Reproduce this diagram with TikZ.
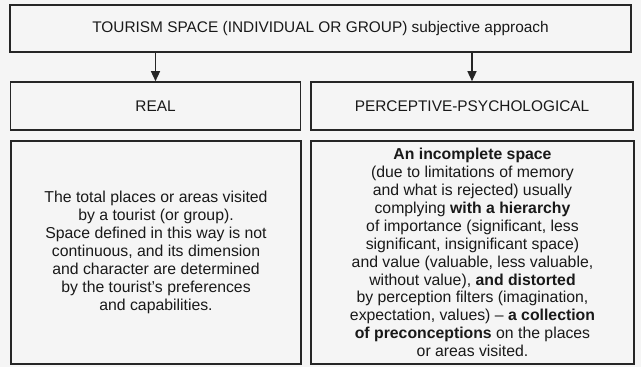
\documentclass[tikz,border=0pt]{standalone}
\usepackage{fontspec}
\setmainfont{Liberation Sans}
\usepackage{tikz}
\usetikzlibrary{positioning,arrows.meta}
\tikzstyle{caixa} = [draw=black!85, line width=1.6pt, align=center, inner sep=0pt, text=black!90]
\tikzstyle{titulo} = [caixa, font=\fontsize{15.4}{18}\selectfont]
\tikzstyle{texto} = [caixa, minimum height=223pt, font=\fontsize{15.8}{17.9}\selectfont]
\tikzstyle{seta} = [line width=1.4pt, draw=black!85, -{Triangle[length=10pt,width=9pt]}]

\begin{document}
\begin{tikzpicture}[x=1pt,y=-1pt]
    % Fundo
    \fill[black!4] (0,0) rectangle (641,367);
    \useasboundingbox (0,0) rectangle (641,367);

    % Caixas
    \node[titulo, minimum width=621pt, minimum height=47pt] (espaco) at (320.5,28.5) {TOURISM SPACE (INDIVIDUAL OR GROUP) subjective approach};
    \node[titulo, minimum width=290pt, minimum height=48pt] (real) at (155.5,106) {REAL};
    \node[titulo, minimum width=322pt, minimum height=48pt] (percep) at (472,106) {PERCEPTIVE-PSYCHOLOGICAL};

    % Textos
    \node[texto, minimum width=290pt] (realtxt) at (156,252.5) {The total places or areas visited\\ by a tourist (or group).\\ Space defined in this way is not\\ continuous, and its dimension\\ and character are determined\\ by the tourist's preferences\\ and capabilities.};
    \node[texto, minimum width=323pt] (perceptxt) at (472.5,252.5) {\textbf{An incomplete space}\\ (due to limitations of memory\\ and what is rejected) usually\\ complying \textbf{with a hierarchy}\\ of importance (significant, less\\ significant, insignificant space)\\ and value (valuable, less valuable,\\ without value), \textbf{and distorted}\\ by perception filters (imagination,\\ expectation, values) -- \textbf{a collection}\\ \textbf{of preconceptions} on the places\\ or areas visited.};

    % Setas
    \draw[seta] (espaco.south -| real.north) -- (real.north);
    \draw[seta] (espaco.south -| percep.north) -- (percep.north);
\end{tikzpicture}
\end{document}
